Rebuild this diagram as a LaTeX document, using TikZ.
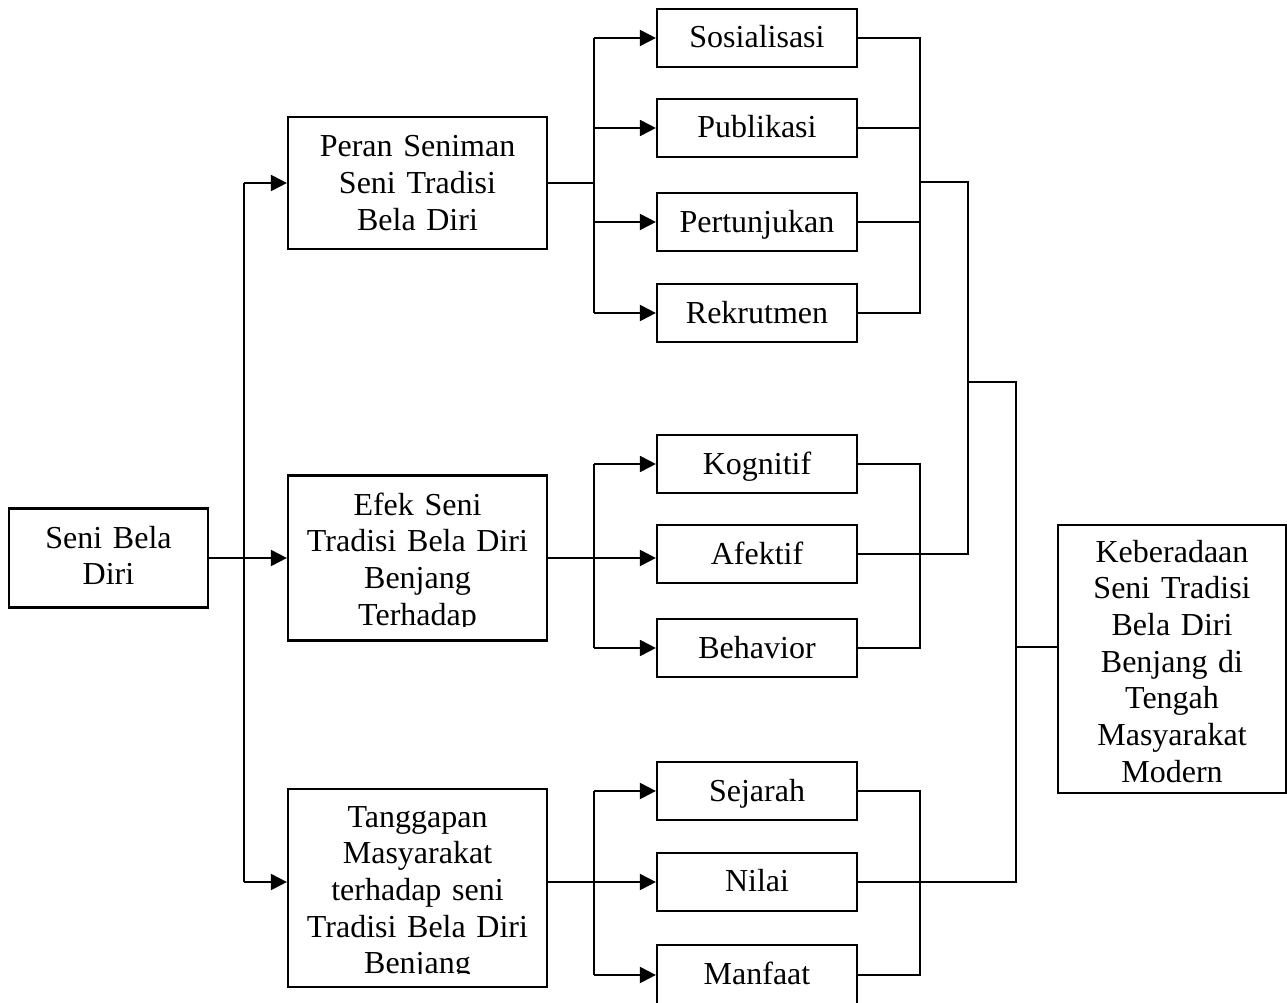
\documentclass[tikz,border=0pt]{standalone}
\usepackage{fontspec}
\setmainfont{Liberation Serif}
\usetikzlibrary{arrows.meta}
\begin{document}
\begin{tikzpicture}[x=1pt,y=-1pt,
  box/.style={draw, line width=2.2pt, inner sep=0pt},
  lbl/.style={align=center, inner sep=0pt, anchor=base, font=\fontsize{32}{36.7}\selectfont},
  ln/.style={line width=2pt},
  arr/.style={line width=2pt, -{Triangle[length=16pt,width=16pt]}}]
\clip (0,0) rectangle (1287,1003);
\fill[white] (0,0) rectangle (1287,1003);
% main boxes
\node[box, minimum width=199pt, minimum height=99pt] (seni) at (108.5,558) {};
\node[box, minimum width=259pt, minimum height=132pt] (peran) at (417.5,183) {};
\node[box, minimum width=259pt, minimum height=165pt] (efek) at (417.5,558) {};
\node[box, minimum width=259pt, minimum height=198pt] (tangg) at (417.5,888) {};
\node[box, minimum width=228pt, minimum height=268pt] (kb) at (1172,659) {};
% small boxes
\node[box, minimum width=200pt, minimum height=58pt] (sos) at (757,38) {};
\node[box, minimum width=200pt, minimum height=58pt] (pub) at (757,128) {};
\node[box, minimum width=200pt, minimum height=58pt] (pert) at (757,222) {};
\node[box, minimum width=200pt, minimum height=58pt] (rek) at (757,313) {};
\node[box, minimum width=200pt, minimum height=58pt] (kog) at (757,464) {};
\node[box, minimum width=200pt, minimum height=58pt] (afe) at (757,554) {};
\node[box, minimum width=200pt, minimum height=58pt] (beh) at (757,648) {};
\node[box, minimum width=200pt, minimum height=58pt] (sej) at (757,791) {};
\node[box, minimum width=200pt, minimum height=58pt] (nil) at (757,882) {};
\node[box, minimum width=200pt, minimum height=60pt] (man) at (757,975) {};
% texts
\node[lbl, text width=199pt] (seniT) at (108.5,548) {Seni Bela\\Diri};
\node[lbl, text width=259pt] (peranT) at (417.5,157) {Peran Seniman\\Seni Tradisi\\Bela Diri};
\begin{scope}
\clip (288,475) rectangle (547,626);
\node[lbl, text width=259pt] (efekT) at (417.5,515) {Efek Seni\\Tradisi Bela Diri\\Benjang\\Terhadap};
\end{scope}
\begin{scope}
\clip (288,789) rectangle (547,973);
\node[lbl, text width=259pt] (tanggT) at (417.5,827) {Tanggapan\\Masyarakat\\terhadap seni\\Tradisi Bela Diri\\Benjang};
\end{scope}
\begin{scope}
\clip (1058,525) rectangle (1287,782);
\node[lbl, text width=228pt] (kbT) at (1172,562) {Keberadaan\\Seni Tradisi\\Bela Diri\\Benjang di\\Tengah\\Masyarakat\\Modern};
\end{scope}
\node[lbl, text width=200pt] (sosT) at (757,48) {Sosialisasi};
\node[lbl, text width=200pt] (pubT) at (757,138) {Publikasi};
\node[lbl, text width=200pt] (pertT) at (757,232) {Pertunjukan};
\node[lbl, text width=200pt] (rekT) at (757,323) {Rekrutmen};
\node[lbl, text width=200pt] (kogT) at (757,474) {Kognitif};
\node[lbl, text width=200pt] (afeT) at (757,564) {Afektif};
\node[lbl, text width=200pt] (behT) at (757,658) {Behavior};
\node[lbl, text width=200pt] (sejT) at (757,801) {Sejarah};
\node[lbl, text width=200pt] (nilT) at (757,891) {Nilai};
\node[lbl, text width=200pt] (manT) at (757,984) {Manfaat};
% bus coordinates
\coordinate (lb) at (244,0);
\coordinate (pb) at (594,0);
\coordinate (pr) at (920,0);
\coordinate (q1) at (920,182);
\coordinate (q2) at (968,182);
\coordinate (r1) at (968,382);
\coordinate (r2) at (1016,382);
\coordinate (r3) at (1016,647);
% left connectors
\draw[arr] (seni.east) -- (efek.west);
\draw[ln] (lb |- peran.west) -- (lb |- nil.west);
\draw[arr] (lb |- peran.west) -- (peran.west);
\draw[arr] (lb |- nil.west) -- (nil.west -| tangg.west);
% top group
\draw[ln] (peran.east) -- (peran.east -| pb);
\draw[ln] (sos.west -| pb) -- (rek.west -| pb);
\foreach \n in {sos,pub,pert,rek} \draw[arr] (\n.west -| pb) -- (\n.west);
\draw[ln] (sos.east) -- (sos.east -| pr) -- (rek.east -| pr) -- (rek.east);
\draw[ln] (pub.east) -- (pub.east -| pr);
\draw[ln] (pert.east) -- (pert.east -| pr);
% middle group
\draw[arr] (efek.east) -- (efek.east -| afe.west);
\draw[ln] (kog.west -| pb) -- (beh.west -| pb);
\draw[arr] (kog.west -| pb) -- (kog.west);
\draw[arr] (beh.west -| pb) -- (beh.west);
\draw[ln] (kog.east) -- (kog.east -| pr) -- (beh.east -| pr) -- (beh.east);
% bottom group
\draw[arr] (nil.west -| tangg.east) -- (nil.west);
\draw[ln] (sej.west -| pb) -- (man.west -| pb);
\draw[arr] (sej.west -| pb) -- (sej.west);
\draw[arr] (man.west -| pb) -- (man.west);
\draw[ln] (sej.east) -- (sej.east -| pr) -- (man.east -| pr) -- (man.east);
% right joins
\draw[ln] (q1) -- (q2) -- (afe.east -| q2) -- (afe.east);
\draw[ln] (r1) -- (r2) -- (nil.east -| r2) -- (nil.east);
\draw[ln] (r3) -- (r3 -| kb.west);
\end{tikzpicture}
\end{document}
